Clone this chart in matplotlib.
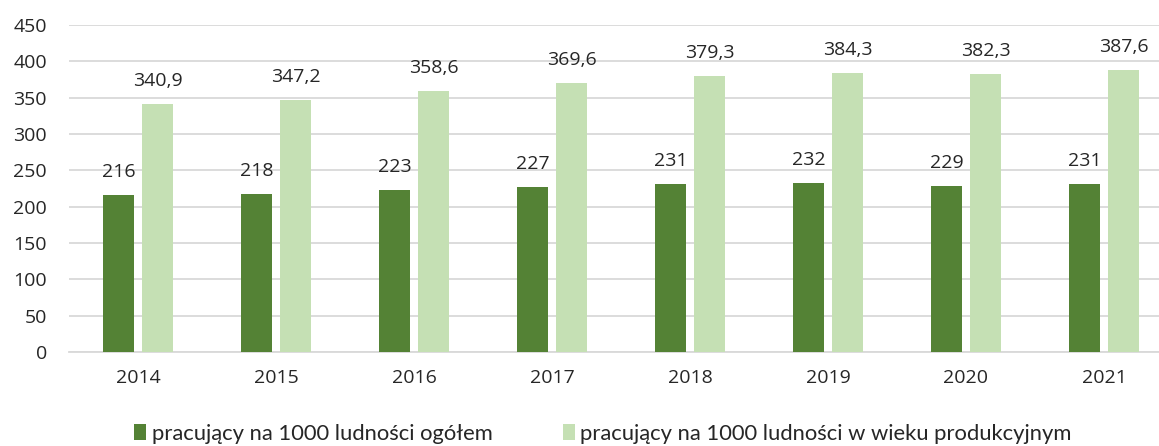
import matplotlib
matplotlib.use("Agg")
import matplotlib.pyplot as plt
import numpy as np

years = ["2014", "2015", "2016", "2017", "2018", "2019", "2020", "2021"]
ogolem = [216, 218, 223, 227, 231, 232, 229, 231]
produkcyjny = [340.9, 347.2, 358.6, 369.6, 379.3, 384.3, 382.3, 387.6]
series_names = ["pracujący na 1000 ludności ogółem",
                "pracujący na 1000 ludności w wieku produkcyjnym"]
yticks = [0, 50, 100, 150, 200, 250, 300, 350, 400, 450]

plt.rcParams['font.family'] = ['Open Sans', 'DejaVu Sans']
text_color = '#262626'
dark = '#548235'
light = '#C5E0B4'
fs = 14

fig = plt.figure(figsize=(11.59, 4.46), dpi=100)
ax = fig.add_axes([69/1159, 94/446, 1104/1159, 327/446])

x = np.arange(len(years))
w = 0.225
off = 0.141
b1 = ax.bar(x - off, ogolem, width=w, color=dark, label=series_names[0], zorder=3)
b2 = ax.bar(x + off, produkcyjny, width=w, color=light, label=series_names[1], zorder=3)

def fmt(v):
    if float(v).is_integer():
        return f"{int(v)}"
    return f"{v:.1f}".replace('.', ',')

for bars, vals in ((b1, ogolem), (b2, produkcyjny)):
    for r, v in zip(bars, vals):
        ax.annotate(fmt(v), (r.get_x() + r.get_width()/2, v), xytext=(0, 13),
                    textcoords='offset points', ha='center', va='baseline',
                    fontsize=fs, color=text_color)

ax.set_xlim(-0.5, len(years) - 0.5)
ax.set_ylim(0, 450)
ax.set_yticks(yticks)
ax.set_yticklabels([str(t) for t in yticks], fontsize=fs, color=text_color)
ax.set_xticks(x)
ax.set_xticklabels(years, fontsize=fs, color=text_color)
ax.tick_params(axis='both', length=0)
ax.tick_params(axis='y', pad=16)
ax.tick_params(axis='x', pad=12)
ax.yaxis.grid(True, color='#D9D9D9', linewidth=1.3, zorder=0)
ax.set_axisbelow(True)
for s in ['top', 'right', 'left']:
    ax.spines[s].set_visible(False)
ax.spines['bottom'].set_color('#D9D9D9')
ax.spines['bottom'].set_linewidth(1.3)

fig.legend(handles=[b1, b2], loc='center', bbox_to_anchor=(603/1159, 1 - 434/446),
           ncol=2, frameon=False, prop={'family': ['Lato', 'DejaVu Sans'], 'size': 15.8},
           handlelength=0.55, handleheight=0.75,
           handletextpad=0.25, columnspacing=3.2, labelcolor=text_color)

fig.savefig("out.png", dpi=100)
